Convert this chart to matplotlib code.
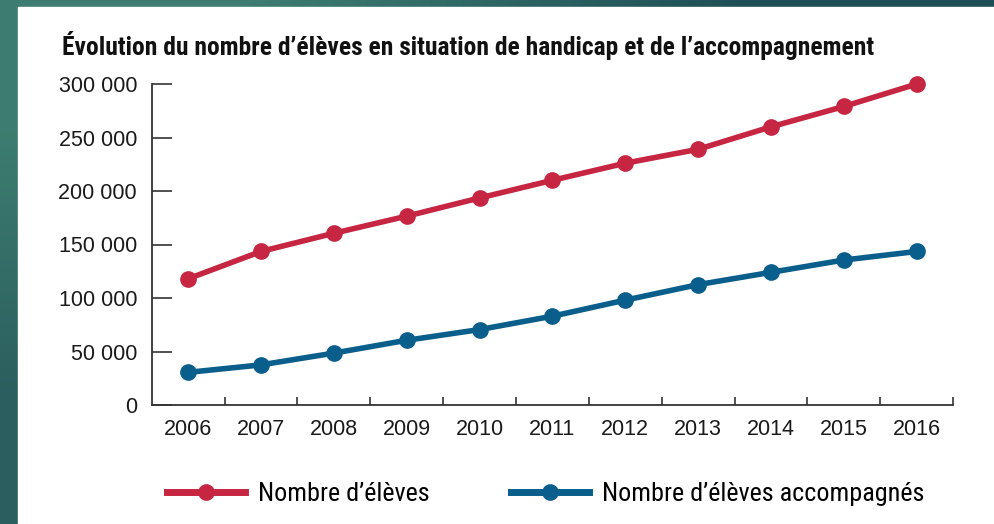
import numpy as np
import matplotlib
matplotlib.use('Agg')
import matplotlib.pyplot as plt
from matplotlib.lines import Line2D
from matplotlib.ticker import FuncFormatter, FixedLocator
from matplotlib import font_manager as fm

# ---- data ----
years = ['2006', '2007', '2008', '2009', '2010', '2011', '2012', '2013', '2014', '2015', '2016']
eleves = [118000, 143500, 160500, 176500, 193500, 210000, 226000, 239000, 260000, 279000, 300000]
accompagnes = [30500, 37500, 48500, 60500, 70500, 83000, 98000, 112500, 124000, 135500, 143500]
y_ticks = [0, 50000, 100000, 150000, 200000, 250000, 300000]

title = "Évolution du nombre d’élèves en situation de handicap et de l’accompagnement"
label_eleves = "Nombre d’élèves"
label_acc = "Nombre d’élèves accompagnés"

RED = '#C62641'
BLUE = '#0A5E8B'
AXC = '#333333'

avail = {f.name for f in fm.fontManager.ttflist}
base = 'Liberation Sans' if 'Liberation Sans' in avail else 'DejaVu Sans'
narrow = next((f for f in ['Liberation Sans Narrow', 'Roboto Condensed', 'Open Sans Condensed']
               if f in avail), base)
plt.rcParams['font.family'] = [base, 'DejaVu Sans']

W, H = 994, 524
fig = plt.figure(figsize=(W / 100, H / 100), dpi=100)

# ---- teal frame with a soft gradient, white panel ----
bg = fig.add_axes([0, 0, 1, 1], zorder=-10)
grad = np.array([[[0.24, 0.49, 0.44], [0.12, 0.31, 0.34]],
                 [[0.17, 0.37, 0.37], [0.10, 0.26, 0.29]]])
bg.imshow(grad, aspect='auto', interpolation='bilinear', extent=[0, 1, 0, 1])
bg.add_patch(plt.Rectangle((18 / W, 0), 1, 1 - 7 / H, color='white', transform=bg.transAxes))
bg.set_xlim(0, 1); bg.set_ylim(0, 1); bg.axis('off')

# ---- main axes ----
ax = fig.add_axes([151.7 / W, 1 - 405 / H, (953.2 - 151.7) / W, (405 - 84) / H])
ax.patch.set_alpha(0)
x = np.arange(len(years))
ax.plot(x, eleves, '-o', color=RED, lw=4, ms=11, clip_on=False, zorder=3)
ax.plot(x, accompagnes, '-o', color=BLUE, lw=4, ms=11, clip_on=False, zorder=3)

ax.set_xlim(-0.5, len(years) - 0.5)
ax.set_ylim(0, 300000)
for s in ['top', 'right']:
    ax.spines[s].set_visible(False)
for s in ['left', 'bottom']:
    ax.spines[s].set_color(AXC)
    ax.spines[s].set_linewidth(1.3)

ax.set_yticks(y_ticks)
ax.yaxis.set_major_formatter(FuncFormatter(lambda v, p: '{:,.0f}'.format(v).replace(',', ' ')))
ax.tick_params(axis='y', direction='in', length=14.5, width=1.2, color=AXC,
               labelsize=15.5, pad=10.5, labelcolor='#1a1a1a')
ax.set_xticks(x)
ax.set_xticklabels(years)
ax.tick_params(axis='x', which='major', length=0, labelsize=15.5, pad=10, labelcolor='#1a1a1a')
ax.xaxis.set_minor_locator(FixedLocator(np.arange(0.5, len(years), 1.0)))
ax.tick_params(axis='x', which='minor', direction='in', length=6, width=1.2, color=AXC)

fig.text(62 / W, 1 - 45 / H, title, fontsize=18.4, fontweight='bold', family=[narrow, base],
         color='#111111', va='center', ha='left')

# ---- legend ----
handles = [Line2D([], [], color=RED, lw=5, marker='o', ms=11),
           Line2D([], [], color=BLUE, lw=5, marker='o', ms=11)]
fig.legend(handles, [label_eleves, label_acc], loc='center left',
           bbox_to_anchor=(167 / W, 1 - 494 / H), ncol=2, frameon=False,
           handlelength=3.0, handletextpad=0.5, columnspacing=3.1,
           borderpad=0, borderaxespad=0, numpoints=1,
           prop={'size': 18.8, 'family': [narrow, base]})

fig.savefig('out.png', dpi=100)
